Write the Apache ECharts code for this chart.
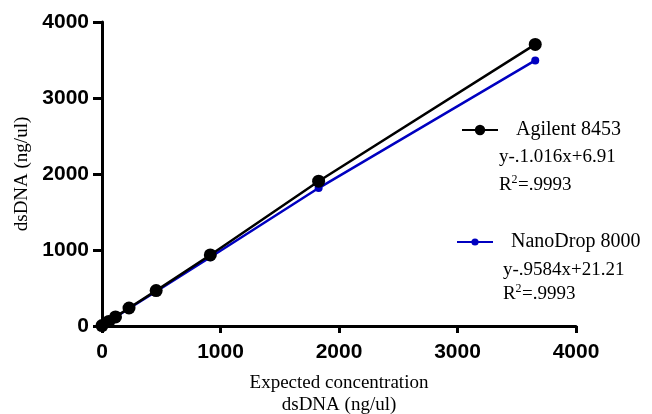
<!DOCTYPE html>
<html><head><meta charset="utf-8">
<script src="https://cdn.jsdelivr.net/npm/echarts@6/dist/echarts.min.js"></script>
<style>html,body{margin:0;padding:0;background:#fff}#c{width:652px;height:414px}</style>
</head><body><div id="c"></div>
<script>
const expected = [0, 57, 114, 228, 457, 914, 1828, 3656];
const agilent = [5, 60, 120, 237, 466, 935, 1905, 3705];
const nanodrop = [5, 58, 115, 230, 455, 905, 1815, 3495];
const xTicks = [0, 1000, 2000, 3000, 4000];
const yTicks = [0, 1000, 2000, 3000, 4000];
const seriesNames = ['Agilent 8453', 'NanoDrop 8000'];
const eqs = [['y-.1.016x+6.91', '.9993'], ['y-.9584x+21.21', '.9993']];

const chart = echarts.init(document.getElementById('c'));
const serif = '"Liberation Serif", "DejaVu Serif", serif';
const sans = '"Liberation Sans", Arial, sans-serif';
const pair = arr => expected.map((x, i) => [x, arr[i]]);

function eqText(i, left, cy1, cy2) {
  return [
    {type: 'text', style: {x: left, y: cy1, text: eqs[i][0], font: '19px ' + serif, fill: '#000', verticalAlign: 'middle'}},
    {type: 'text', style: {x: left, y: cy2, text: 'R', font: '19px ' + serif, fill: '#000', verticalAlign: 'middle'}},
    {type: 'text', style: {x: left + 12.5, y: cy2 - 5, text: '2', font: '12px ' + serif, fill: '#000', verticalAlign: 'middle'}},
    {type: 'text', style: {x: left + 19, y: cy2, text: '=' + eqs[i][1], font: '19px ' + serif, fill: '#000', verticalAlign: 'middle'}}
  ];
}

chart.setOption({
  animation: false,
  grid: {left: 102, right: 76, top: 22, bottom: 88, containLabel: false, outerBoundsMode: 'none'},
  xAxis: {
    type: 'value', min: 0, max: 4000, interval: 1000,
    axisLine: {show: true, lineStyle: {color: '#000', width: 3}},
    axisTick: {show: true, length: 7, lineStyle: {color: '#000', width: 3}},
    axisLabel: {color: '#000', fontFamily: sans, fontWeight: 'bold', fontSize: 21, margin: 16,
      formatter: v => xTicks.includes(v) ? String(v) : ''},
    splitLine: {show: false},
    name: 'Expected concentration\ndsDNA (ng/ul)', nameLocation: 'middle', nameGap: 46,
    nameTextStyle: {color: '#000', fontFamily: serif, fontSize: 19, lineHeight: 22}
  },
  yAxis: {
    type: 'value', min: 0, max: 4000, interval: 1000,
    axisLine: {show: true, lineStyle: {color: '#000', width: 3}},
    axisTick: {show: true, length: 9, lineStyle: {color: '#000', width: 3}},
    axisLabel: {color: '#000', fontFamily: sans, fontWeight: 'bold', fontSize: 21, margin: 13,
      formatter: v => yTicks.includes(v) ? String(v) : ''},
    splitLine: {show: false},
    name: 'dsDNA (ng/ul)', nameLocation: 'middle', nameGap: 67,
    nameTextStyle: {color: '#000', fontFamily: serif, fontSize: 19}
  },
  legend: [
    {data: [seriesNames[0]], left: 461, top: 120, padding: 0, itemWidth: 36, itemHeight: 13,
     textStyle: {fontFamily: serif, fontSize: 20, color: '#000', padding: [0,0,0,13]}},
    {data: [seriesNames[1]], left: 456, top: 232, padding: 0, itemWidth: 36, itemHeight: 9,
     textStyle: {fontFamily: serif, fontSize: 20, color: '#000', padding: [0,0,0,13]}}
  ],
  graphic: [].concat(eqText(0, 499, 157, 185), eqText(1, 503, 270, 294)),
  series: [
    {name: seriesNames[1], type: 'line', data: pair(nanodrop), symbol: 'circle', symbolSize: 8,
     itemStyle: {color: '#0000c0'}, lineStyle: {color: '#0000c0', width: 2.5}, z: 2},
    {name: seriesNames[0], type: 'line', data: pair(agilent), symbol: 'circle', symbolSize: 13,
     itemStyle: {color: '#000'}, lineStyle: {color: '#000', width: 2.5}, z: 3}
  ]
});
</script></body></html>
